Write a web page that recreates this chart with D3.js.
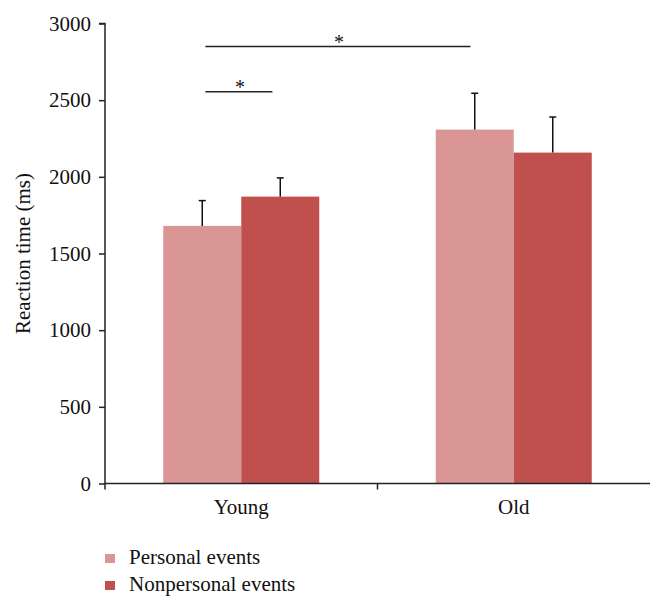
<!DOCTYPE html>
<html><head><meta charset="utf-8">
<script src="https://cdn.jsdelivr.net/npm/d3@7/dist/d3.min.js"></script>
<style>body{margin:0;background:#fff}svg{display:block}text{font-family:"Liberation Serif","DejaVu Serif",serif;fill:#111}</style>
</head><body><svg id="c" width="664" height="610"></svg>
<script>
const groups = ["Young", "Old"];
const series = ["Personal events", "Nonpersonal events"];
const personal = [1680, 2308];
const nonpersonal = [1871, 2158];
const personalErr = [165, 237];
const nonpersonalErr = [122, 232];
const yTicks = [0, 500, 1000, 1500, 2000, 2500, 3000];
const colors = ["#D99694", "#C0504D"];
const sigLines = [
  {from: ["Young", 0, 0.04], to: ["Young", 1, -0.1], y: 2555},
  {from: ["Young", 0, 0.04], to: ["Old", 0, -0.055], y: 2850}
];

const svg = d3.select("#c");
const mL = 105, mR = 650, mT = 23.5, mB = 483.5;
const fs = "21px";
const y = d3.scaleLinear().domain([0, 3000]).range([mB, mT]);
const x0 = d3.scaleBand().domain(groups).range([mL, mR]).paddingInner(0.4275).paddingOuter(0.21375);
const x1 = d3.scaleBand().domain([0, 1]).range([0, x0.bandwidth()]);
const vals = [personal, nonpersonal];
const errs = [personalErr, nonpersonalErr];

groups.forEach((g, gi) => {
  [0, 1].forEach(si => {
    const bx = x0(g) + x1(si), v = vals[si][gi];
    svg.append("rect").attr("x", bx).attr("y", y(v)).attr("width", x1.bandwidth()).attr("height", y(0) - y(v)).attr("fill", colors[si]);
    const cx = bx + x1.bandwidth() / 2, e = v + errs[si][gi];
    svg.append("line").attr("x1", cx).attr("x2", cx).attr("y1", y(v)).attr("y2", y(e)).attr("stroke", "#111").attr("stroke-width", 1.5);
    svg.append("line").attr("x1", cx - 3.5).attr("x2", cx + 3.5).attr("y1", y(e)).attr("y2", y(e)).attr("stroke", "#111").attr("stroke-width", 1.5);
  });
});

const yAxis = d3.axisLeft(y).tickValues(yTicks).tickSize(6).tickPadding(8).tickFormat(d3.format("d"));
const ya = svg.append("g").attr("transform", `translate(${mL},0)`).call(yAxis);
ya.select(".domain").attr("stroke", "#222").attr("stroke-width", 1.5).attr("d", `M-6,${mT}H0V${mB + 6}`);
ya.selectAll(".tick line").attr("stroke", "#222").attr("stroke-width", 1.5);
ya.selectAll(".tick text").style("font-size", fs).attr("fill", "#111");

const xa = svg.append("g").attr("transform", `translate(0,${mB})`);
xa.append("line").attr("x1", mL).attr("x2", mR).attr("stroke", "#222").attr("stroke-width", 1.5);
const mid = x0("Old") - x0.step() * x0.paddingInner() / 2;
xa.append("line").attr("x1", mid).attr("x2", mid).attr("y1", 0).attr("y2", 6).attr("stroke", "#222").attr("stroke-width", 1.5);
groups.forEach(g => {
  xa.append("text").attr("x", x0(g) + x0.bandwidth() / 2).attr("y", 30).attr("text-anchor", "middle").style("font-size", fs).text(g);
});

svg.append("text").attr("transform", `translate(30,${(mT + mB) / 2}) rotate(-90)`).attr("text-anchor", "middle").style("font-size", fs).text("Reaction time (ms)");

const pos = r => x0(r[0]) + x1(r[1]) + x1.bandwidth() * (0.5 + r[2]);
sigLines.forEach(s => {
  const a = pos(s.from), b = pos(s.to);
  svg.append("line").attr("x1", a).attr("x2", b).attr("y1", y(s.y)).attr("y2", y(s.y)).attr("stroke", "#222").attr("stroke-width", 1.5);
  svg.append("text").attr("x", (a + b) / 2 + 1).attr("y", y(s.y) + 2).attr("text-anchor", "middle").style("font-size", "20px").text("*");
});

series.forEach((s, i) => {
  svg.append("rect").attr("x", 105).attr("y", 554 + i * 27).attr("width", 10).attr("height", 9).attr("fill", colors[i]);
  svg.append("text").attr("x", 129).attr("y", 564 + i * 27).style("font-size", fs).text(s);
});
</script></body></html>
